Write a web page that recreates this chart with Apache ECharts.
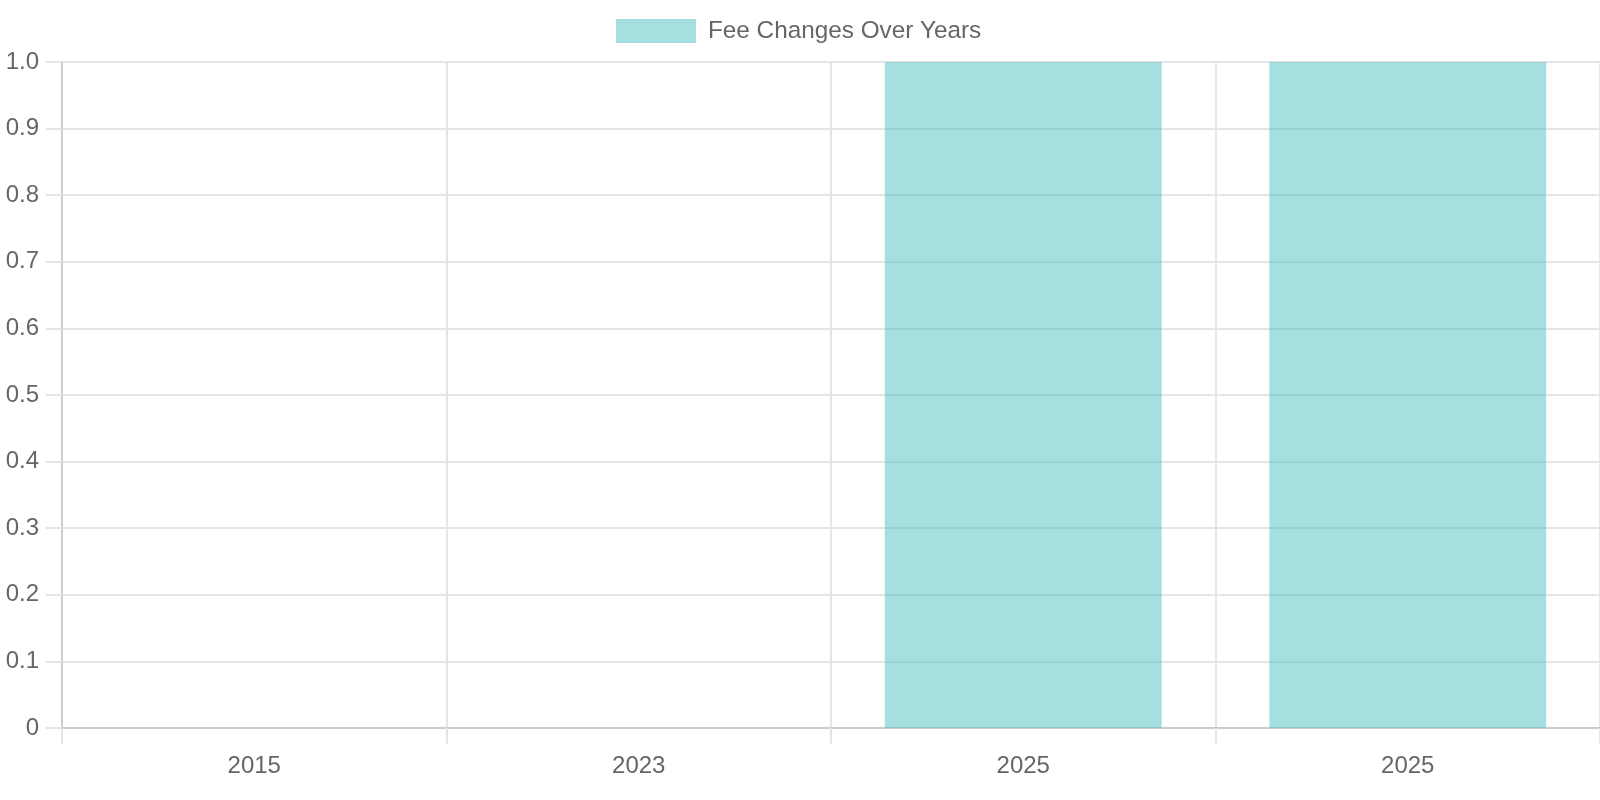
<!DOCTYPE html>
<html>
<head>
<meta charset="utf-8">
<script src="https://cdn.jsdelivr.net/npm/echarts@6/dist/echarts.min.js"></script>
<style>
html,body{margin:0;padding:0;background:#fff;}
#chart{width:1600px;height:800px;}
</style>
</head>
<body>
<div id="chart"></div>
<script>
const categories = ['2015', '2023', '2025', '2025'];
const feeValues = [0, 0, 1, 1];
const seriesName = 'Fee Changes Over Years';
const yTicks = { min: 0, max: 1, interval: 0.1 };

const chart = echarts.init(document.getElementById('chart'));
const font = '"Liberation Sans", Arial, Helvetica, sans-serif';
chart.setOption({
  animation: false,
  textStyle: { fontFamily: font },
  legend: {
    data: [seriesName],
    top: 19,
    left: 616,
    padding: 0,
    itemWidth: 80,
    itemHeight: 24,
    icon: 'rect',
    textStyle: { fontSize: 24.3, color: '#666', fontFamily: font, padding: [0, 0, 0, 7] }
  },
  grid: { left: 62, right: 0, top: 62, bottom: 72, containLabel: false },
  xAxis: {
    type: 'category',
    data: categories,
    boundaryGap: true,
    axisLine: { show: true, lineStyle: { color: '#cccccc', width: 2 } },
    axisTick: { show: true, length: 16, lineStyle: { color: '#e5e5e5', width: 2 } },
    splitLine: { show: true, lineStyle: { color: '#e5e5e5', width: 2 } },
    axisLabel: { fontSize: 24, color: '#666', margin: 26, fontFamily: font }
  },
  yAxis: {
    type: 'value',
    min: yTicks.min,
    max: yTicks.max,
    interval: yTicks.interval,
    axisLine: { show: true, lineStyle: { color: '#cccccc', width: 2 } },
    axisTick: { show: true, length: 16, lineStyle: { color: '#e5e5e5', width: 2 } },
    splitLine: { show: true, lineStyle: { color: '#e5e5e5', width: 2 } },
    axisLabel: {
      fontSize: 24, color: '#666', margin: 23, fontFamily: font,
      formatter: v => (v === 0 ? '0' : v.toFixed(1))
    }
  },
  series: [{
    name: seriesName,
    type: 'bar',
    data: feeValues,
    barCategoryGap: '28%',
    itemStyle: { color: 'rgba(75,192,192,0.5)' }
  }]
});
</script>
</body>
</html>
